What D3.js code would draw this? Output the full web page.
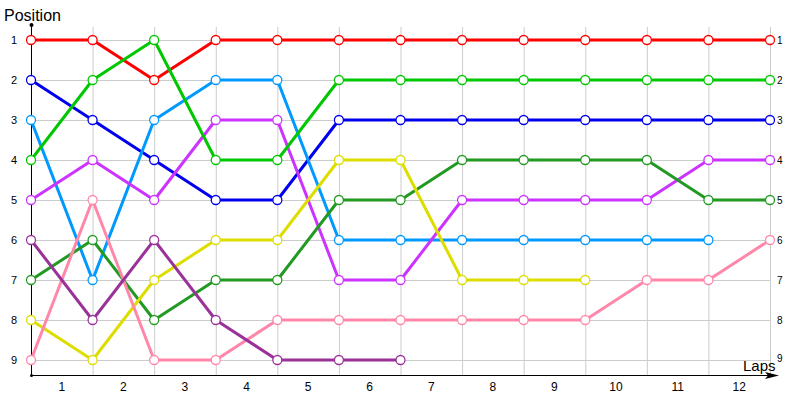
<!DOCTYPE html>
<html>
<head>
<meta charset="utf-8">
<script src="https://cdn.jsdelivr.net/npm/d3@7"></script>
<style>
  body { margin: 0; background: #fff; }
  text { font-family: "Liberation Sans", Arial, sans-serif; fill: #000; }
</style>
</head>
<body>
<div id="chart"></div>
<script>
// Lap labels along the bottom
var laps = ["1", "2", "3", "4", "5", "6", "7", "8", "9", "10", "11", "12"];
var positions = [1, 2, 3, 4, 5, 6, 7, 8, 9];

// Position of each driver at every sample (start + end of each lap)
var red        = [1, 1, 2, 1, 1, 1, 1, 1, 1, 1, 1, 1, 1];
var green      = [4, 2, 1, 4, 4, 2, 2, 2, 2, 2, 2, 2, 2];
var blue       = [2, 3, 4, 5, 5, 3, 3, 3, 3, 3, 3, 3, 3];
var lightBlue  = [3, 7, 3, 2, 2, 6, 6, 6, 6, 6, 6, 6];
var magenta    = [5, 4, 5, 3, 3, 7, 7, 5, 5, 5, 5, 4, 4];
var darkGreen  = [7, 6, 8, 7, 7, 5, 5, 4, 4, 4, 4, 5, 5];
var yellow     = [8, 9, 7, 6, 6, 4, 4, 7, 7, 7];
var pink       = [9, 5, 9, 9, 8, 8, 8, 8, 8, 8, 7, 7, 6];
var darkPurple = [6, 8, 6, 8, 9, 9, 9];

var seriesColors = ["#ff0000", "#00c800", "#0000ee", "#0099ff", "#cc33ff",
                    "#229922", "#dddd00", "#ff88aa", "#993399"];
var series = [red, blue, lightBlue, magenta, darkGreen, yellow, pink, darkPurple, green];
var colorOf = [0, 2, 3, 4, 5, 6, 7, 8, 1];

var width = 800, height = 400;

var svg = d3.select("#chart").append("svg")
    .attr("width", width)
    .attr("height", height);

var x = d3.scaleLinear().domain([0, laps.length]).range([31, 770]);
var y = d3.scaleLinear().domain([1, 9]).range([40, 360]);
var axisY = 375;

// Grid
var grid = svg.append("g").attr("stroke", "#cccccc").attr("stroke-width", 1);
grid.selectAll("line.h")
    .data(positions)
    .enter().append("line")
    .attr("x1", x(0)).attr("x2", x(laps.length))
    .attr("y1", function(d) { return y(d) + 0.5; })
    .attr("y2", function(d) { return y(d) + 0.5; });
grid.selectAll("line.v")
    .data(d3.range(laps.length + 1))
    .enter().append("line")
    .attr("x1", function(d) { return x(d) + 0.5; })
    .attr("x2", function(d) { return x(d) + 0.5; })
    .attr("y1", 27).attr("y2", axisY);

// Axes
svg.append("line")
    .attr("x1", x(0) + 0.5).attr("x2", x(0) + 0.5)
    .attr("y1", 25).attr("y2", axisY)
    .attr("stroke", "#000");
svg.append("circle").attr("cx", x(0) + 0.5).attr("cy", 25).attr("r", 2).attr("fill", "#000");
svg.append("circle").attr("cx", x(0) + 0.5).attr("cy", axisY + 0.5).attr("r", 1.5).attr("fill", "#000");
svg.append("line")
    .attr("x1", x(0)).attr("x2", 772)
    .attr("y1", axisY + 0.5).attr("y2", axisY + 0.5)
    .attr("stroke", "#000");
svg.append("path")
    .attr("d", "M765,372 L779,375.5 L765,379 L768,375.5 Z")
    .attr("fill", "#000");

// Left position labels
svg.append("g").selectAll("text")
    .data(positions)
    .enter().append("text")
    .attr("x", 14)
    .attr("y", function(d) { return y(d); })
    .attr("dy", "0.35em")
    .attr("text-anchor", "middle")
    .style("font-size", "11px")
    .text(function(d) { return d; });

// Right position labels
svg.append("g").selectAll("text")
    .data(positions)
    .enter().append("text")
    .attr("x", 777)
    .attr("y", function(d) { return d === 9 ? y(d) - 2 : y(d); })
    .attr("dy", "0.35em")
    .style("font-size", "10px")
    .text(function(d) { return d; });

// Lap labels
svg.append("g").selectAll("text")
    .data(laps)
    .enter().append("text")
    .attr("x", function(d, i) { return x(i + 0.5); })
    .attr("y", 391)
    .attr("text-anchor", "middle")
    .style("font-size", "12px")
    .text(function(d) { return d; });

// Titles
svg.append("text").attr("x", 4).attr("y", 21).style("font-size", "16px").text("Position");
svg.append("text").attr("x", 743).attr("y", 371).style("font-size", "15px").text("Laps");

// Lines
var line = d3.line()
    .x(function(d, i) { return x(i); })
    .y(function(d) { return y(d); });

series.forEach(function(s, k) {
  var c = seriesColors[colorOf[k]];
  var g = svg.append("g");
  g.append("path")
      .datum(s)
      .attr("d", line)
      .attr("fill", "none")
      .attr("stroke", c)
      .attr("stroke-width", 3)
      .attr("stroke-linejoin", "round");
  g.selectAll("circle")
      .data(s)
      .enter().append("circle")
      .attr("cx", function(d, i) { return x(i); })
      .attr("cy", function(d) { return y(d); })
      .attr("r", 4.5)
      .attr("fill", "#fff")
      .attr("stroke", c)
      .attr("stroke-width", 1.3);
});
</script>
</body>
</html>
